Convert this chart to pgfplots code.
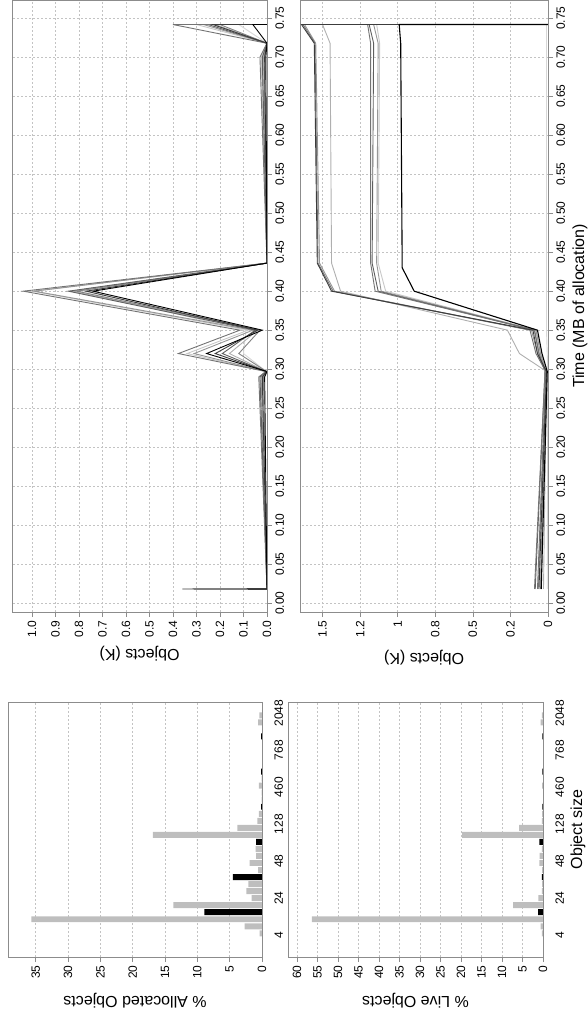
\documentclass[border=0pt]{standalone}
\usepackage{fontspec}
\setmainfont{Liberation Sans}
\usepackage{graphicx}
\usepackage{pgfplots}
\pgfplotsset{compat=1.18}

\definecolor{framec}{RGB}{140,140,140}
\definecolor{gridc}{RGB}{195,195,195}
\definecolor{barg}{RGB}{190,190,190}
\definecolor{g1}{RGB}{115,115,115}
\definecolor{g2}{RGB}{200,200,200}
\definecolor{g3}{RGB}{150,150,150}
\definecolor{g4}{RGB}{95,95,95}
\definecolor{g5}{RGB}{175,175,175}
\definecolor{g6}{RGB}{130,130,130}
\definecolor{g7}{RGB}{215,215,215}
\definecolor{g8}{RGB}{60,60,60}

\newcommand{\lblfont}{\fontsize{16}{19}\selectfont}
\newcommand{\tckfont}{\fontsize{12}{14}\selectfont}

\pgfplotsset{
  rstyle/.style={
    scale only axis,
    axis line style={framec, line width=0.8pt},
    tick style={framec, line width=0.6pt},
    tick align=outside,
    major tick length=5pt,
    xtick pos=left, ytick pos=left,
    major grid style={gridc, dash pattern=on 2pt off 2pt, line width=0.6pt},
    ticklabel style={font=\tckfont},
    /pgf/number format/assume math mode=true,
  },
  barstyle/.style={
    rstyle,
    width=255pt,
    xmin=-3.37, xmax=32.9,
    ymajorgrids,
    xtick={-0.24,5.02,10.28,15.54,20.8,26.06,31.3},
    xticklabels={4,24,48,128,460,768,2048},
    x tick style={draw=none},
    xticklabel style={yshift=-4pt},
    every axis y label/.style={at={(axis description cs:0,0.5)}, xshift=-44pt, rotate=90, anchor=center, font=\lblfont},
  },
  linestyle/.style={
    rstyle,
    width=612pt,
    xmin=-0.0115, xmax=0.7735,
    grid=major,
    xtick={0,0.05,...,0.76},
    xticklabels={0.00,0.05,0.10,0.15,0.20,0.25,0.30,0.35,0.40,0.45,0.50,0.55,0.60,0.65,0.70,0.75},
    every axis plot/.append style={line width=0.9pt, mark=none},
  },
}

\begin{document}
\rotatebox{90}{%
\begin{tikzpicture}[x=1pt,y=1pt]
\useasboundingbox (0,0) rectangle (1015,587);

% ---------------- Allocated objects histogram
\begin{axis}[barstyle, at={(58pt,325pt)}, anchor=south west, height=254pt,
  ymin=0, ymax=39.3, ytick={0,5,10,15,20,25,30,35},
  yticklabels={0,5,10,15,20,25,30,35},
  ylabel={\% Allocated Objects}]
\addplot[ybar, bar width=0.85, bar shift=0pt, fill=barg, draw=none] coordinates {
 (0,0.35)(1,2.7)(2,35.7)(4,13.7)(5,1.6)(6,2.4)(7,2.1)(9,0.6)(10,1.9)(11,0.9)(12,1.0)
 (14,16.9)(15,3.8)(16,0.7)(17,0.5)(19,0.05)(20,0.05)(21,0.5)(22,0.05)(30,0.6)(31,0.4)};
\addplot[ybar, bar width=0.85, bar shift=0pt, fill=black, draw=none] coordinates {
 (3,8.9)(8,4.5)(13,0.9)(18,0.15)(23,0.15)(28,0.15)};
\end{axis}

% ---------------- Live objects histogram
\begin{axis}[barstyle, at={(58pt,44pt)}, anchor=south west, height=255pt,
  ymin=0, ymax=62.2, ytick={0,5,10,15,20,25,30,35,40,45,50,55,60},
  yticklabels={0,5,10,15,20,25,30,35,40,45,50,55,60},
  ylabel={\% Live Objects},
  xlabel={Object size},
  every axis x label/.style={at={(axis description cs:0.5,0)}, yshift=-35pt, anchor=center, font=\lblfont}]
\addplot[ybar, bar width=0.85, bar shift=0pt, fill=barg, draw=none] coordinates {
 (0,0.3)(1,0.6)(2,56.4)(4,7.3)(5,1.1)(6,0.3)(7,0.2)(9,0.2)(10,0.9)(11,0.8)(12,0.3)
 (14,19.7)(15,5.8)(16,0.3)(17,0.2)(21,0.2)(30,0.6)(31,0.3)};
\addplot[ybar, bar width=0.85, bar shift=0pt, fill=black, draw=none] coordinates {
 (3,1.2)(8,0.3)(13,0.9)(18,0.15)(23,0.15)(28,0.15)};
\end{axis}

% ---------------- Allocation rate (top right)
\begin{axis}[linestyle, at={(403pt,320pt)}, anchor=south west, height=255pt,
  ymin=0, ymax=1.085, ytick={0,0.1,...,1.01},
  yticklabels={0.0,0.1,0.2,0.3,0.4,0.5,0.6,0.7,0.8,0.9,1.0},
  ylabel={Objects (K)},
  every axis y label/.style={at={(axis description cs:0,0.5)}, xshift=-42pt, rotate=90, anchor=center, font=\lblfont}]
\addplot[g2] coordinates {(0.018,0)(0.29,0.03)(0.297,0.005)(0.32,0.34)(0.35,0.08)(0.40,1.00)(0.436,0)(0.70,0.025)(0.718,0)(0.742,0.30)(0.742,0)};
\addplot[g7] coordinates {(0.018,0)(0.29,0.02)(0.297,0.003)(0.32,0.10)(0.35,0.09)(0.40,0.80)(0.436,0)(0.70,0.02)(0.718,0)(0.742,0.12)(0.742,0)};
\addplot[g3] coordinates {(0.018,0)(0.29,0.025)(0.297,0.004)(0.32,0.31)(0.35,0.06)(0.40,0.99)(0.436,0)(0.70,0.02)(0.718,0)(0.742,0.27)(0.742,0)};
\addplot[g5] coordinates {(0.018,0)(0.29,0.02)(0.297,0.003)(0.32,0.16)(0.35,0.04)(0.40,0.83)(0.436,0)(0.70,0.015)(0.718,0)(0.742,0.22)(0.742,0)};
\addplot[g6] coordinates {(0.018,0)(0.29,0.015)(0.297,0.002)(0.32,0.12)(0.35,0.03)(0.40,0.81)(0.436,0)(0.70,0.012)(0.718,0)(0.742,0.20)(0.742,0)};
\addplot[g4] coordinates {(0.018,0)(0.29,0.03)(0.297,0.004)(0.32,0.19)(0.35,0.05)(0.40,0.845)(0.436,0)(0.70,0.02)(0.718,0)(0.742,0.25)(0.742,0)};
\addplot[g1] coordinates {(0.018,0)(0.29,0.035)(0.297,0.005)(0.32,0.377)(0.35,0.115)(0.40,1.037)(0.436,0)(0.70,0.03)(0.718,0)(0.742,0.40)(0.742,0)};
\addplot[g8] coordinates {(0.0175,0)(0.018,0.36)(0.0185,0)(0.29,0.02)(0.297,0.002)(0.32,0.22)(0.35,0.04)(0.40,0.77)(0.436,0)(0.70,0.01)(0.718,0)(0.742,0.23)(0.742,0)};
\addplot[black] coordinates {(0.018,0)(0.29,0.01)(0.297,0)(0.32,0.257)(0.35,0.02)(0.40,0.74)(0.436,0)(0.70,0.005)(0.718,0)(0.742,0.06)(0.742,0)};
\end{axis}

% ---------------- Live objects (bottom right)
\begin{axis}[linestyle, at={(403pt,39pt)}, anchor=south west, height=248pt,
  ymin=0, ymax=1.65, ytick={0,0.25,0.5,0.75,1,1.25,1.5},
  yticklabels={0,0.2,0.5,0.8,1,1.2,1.5},
  ylabel={Objects (K)},
  every axis y label/.style={at={(axis description cs:0,0.5)}, xshift=-46pt, rotate=90, anchor=center, font=\lblfont},
  xlabel={Time (MB of allocation)},
  every axis x label/.style={at={(axis description cs:0.5,0)}, yshift=-32pt, anchor=center, font=\lblfont}]
\addplot[g7] coordinates {(0.018,0.005)(0.297,0.002)(0.32,0.005)(0.35,0.01)(0.40,0.01)(0.436,0.01)(0.718,0.01)(0.742,0.01)(0.742,0)};
\addplot[g2] coordinates {(0.018,0.05)(0.297,0.01)(0.32,0.05)(0.35,0.08)(0.40,1.08)(0.436,1.13)(0.718,1.12)(0.742,1.14)(0.742,0)};
\addplot[g3] coordinates {(0.018,0.05)(0.297,0.015)(0.32,0.05)(0.35,0.08)(0.40,1.11)(0.436,1.14)(0.718,1.13)(0.742,1.16)(0.742,0)};
\addplot[g4] coordinates {(0.018,0.085)(0.297,0.02)(0.32,0.06)(0.35,0.09)(0.40,1.13)(0.436,1.17)(0.718,1.16)(0.742,1.19)(0.742,0)};
\addplot[g1] coordinates {(0.018,0.09)(0.297,0.02)(0.32,0.06)(0.35,0.09)(0.40,1.15)(0.436,1.18)(0.718,1.18)(0.742,1.20)(0.742,0)};
\addplot[g5] coordinates {(0.018,0.03)(0.297,0.01)(0.32,0.19)(0.35,0.27)(0.40,1.38)(0.436,1.44)(0.718,1.45)(0.742,1.50)(0.742,0)};
\addplot[g3] coordinates {(0.018,0.065)(0.297,0.015)(0.32,0.07)(0.35,0.11)(0.40,1.42)(0.436,1.52)(0.718,1.545)(0.742,1.62)(0.742,0)};
\addplot[g1] coordinates {(0.018,0.07)(0.297,0.015)(0.32,0.08)(0.35,0.12)(0.40,1.43)(0.436,1.53)(0.718,1.55)(0.742,1.63)(0.742,0)};
\addplot[g8] coordinates {(0.018,0.06)(0.297,0.01)(0.32,0.07)(0.35,0.10)(0.40,1.44)(0.436,1.535)(0.718,1.555)(0.742,1.64)(0.742,0)};
\addplot[black, line width=1.1pt] coordinates {(0.018,0.045)(0.297,0.005)(0.32,0.04)(0.35,0.07)(0.40,0.89)(0.43,0.97)(0.718,0.98)(0.742,0.99)(0.742,0)};
\end{axis}
\end{tikzpicture}}
\end{document}
